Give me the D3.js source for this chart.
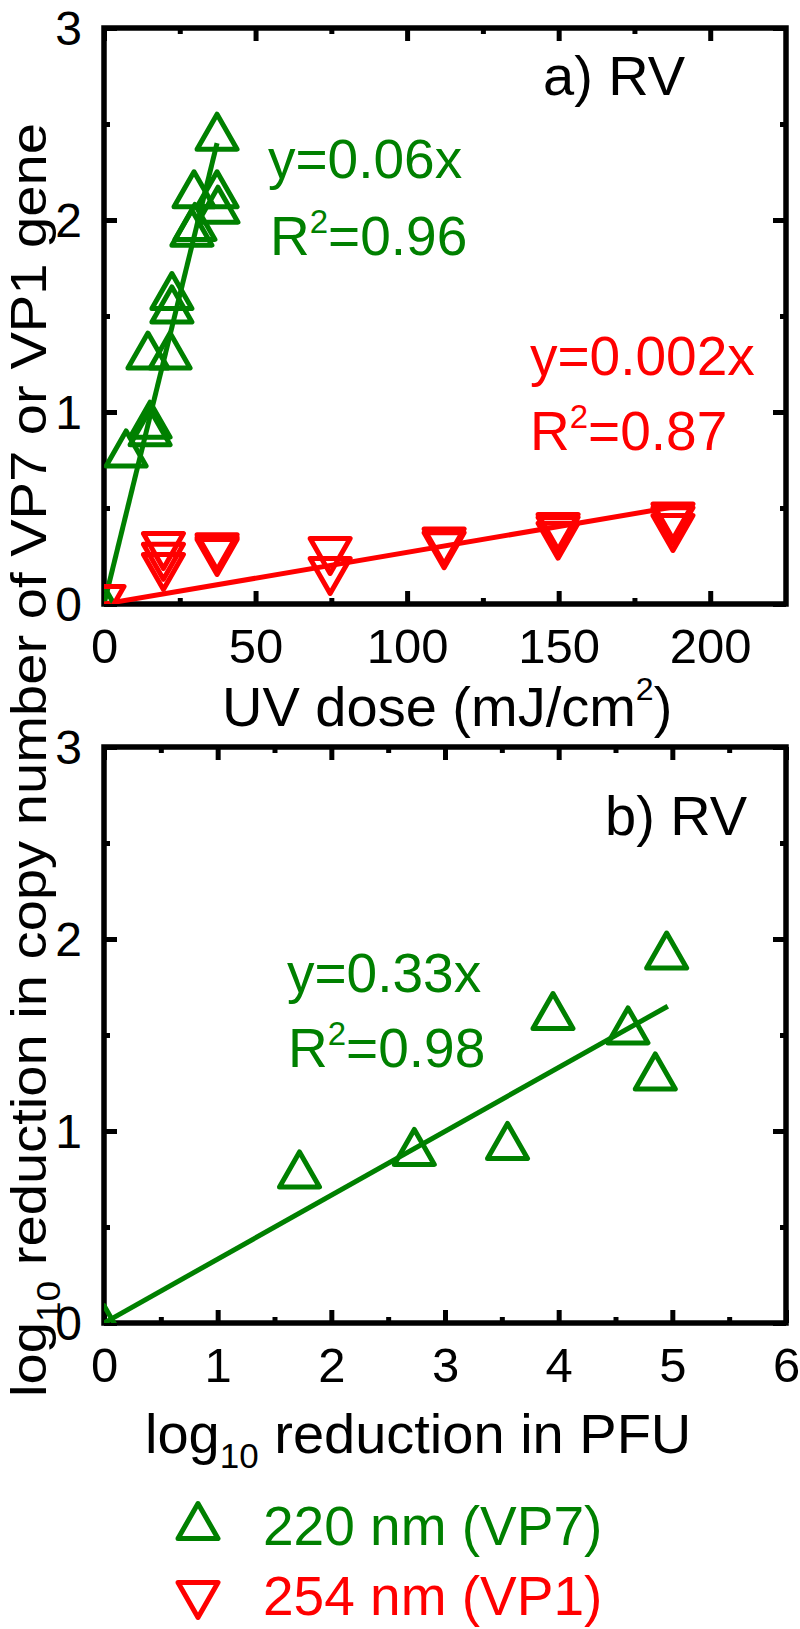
<!DOCTYPE html>
<html><head><meta charset="utf-8">
<script src="https://cdn.jsdelivr.net/npm/d3@7"></script>
<style>
html,body{margin:0;padding:0;background:#fff;}
svg{display:block;font-family:"Liberation Sans",Arial,sans-serif;}
</style></head>
<body>
<svg id="chart" width="800" height="1629"></svg>
<script>
// ---------- data ----------
// panel a: UV dose (mJ/cm2) vs log10 reduction in copy number
const greenDoseA = [37.3, 29.7, 37.3, 37.6, 29.0, 30.0, 22.4, 22.4, 14.5, 21.8, 15.2, 15.2, 7.3, 0];
const greenLogA  = [2.46, 2.16, 2.16, 2.08, 1.96, 1.99, 1.63, 1.56, 1.32, 1.32, 0.96, 0.92, 0.81, 0];
const redDoseA = [0, 19.6, 19.6, 19.6, 37.3, 37.3, 37.3, 74.6, 74.6, 112.2, 112.2, 149.8, 149.8, 149.8, 187.7, 187.7, 187.7];
const redLogA  = [0, 0.276, 0.22, 0.167, 0.27, 0.255, 0.245, 0.25, 0.146, 0.30, 0.28, 0.375, 0.36, 0.33, 0.43, 0.41, 0.37];
const greenFitA = [[0, 0], [37.3, 2.40]];
const redFitA   = [[0, 0], [187.7, 0.505]];
// panel b: log10 reduction in PFU vs log10 reduction in copy number
const pfuB = [4.95, 3.95, 4.61, 4.85, 1.72, 2.73, 3.55, 0];
const copyB = [1.94, 1.625, 1.55, 1.31, 0.80, 0.917, 0.948, 0];
const fitB = [[0, 0], [4.96, 1.65]];
// ticks
const xTicksA = [0, 50, 100, 150, 200];
const xMinorA = [25, 75, 125, 175, 225];
const xTicksB = [0, 1, 2, 3, 4, 5, 6];
const xMinorB = [0.5, 1.5, 2.5, 3.5, 4.5, 5.5];
const yTicks = [0, 1, 2, 3];
const yMinor = [0.5, 1.5, 2.5];

const GREEN = "#008000", RED = "#ff0000";
const FONT = "Liberation Sans, Arial, sans-serif";
const svg = d3.select("#chart");

const L = 104, R = 786;
const panels = {
  a: {top: 28, bottom: 604, xdom: [0, 225]},
  b: {top: 747, bottom: 1323, xdom: [0, 6]}
};

function triPath(up) {
  const w = 40, h = 35;
  return up ? `M0,${-h/2}L${w/2},${h/2}L${-w/2},${h/2}Z` : `M0,${h/2}L${w/2},${-h/2}L${-w/2},${-h/2}Z`;
}

function drawPanel(id, p, xMajor, xMinor, fmt) {
  const x = d3.scaleLinear().domain(p.xdom).range([L, R]);
  const y = d3.scaleLinear().domain([0, 3]).range([p.bottom, p.top]);
  const g = svg.append("g");
  svg.append("clipPath").attr("id", "clip" + id).append("rect")
    .attr("x", L).attr("y", p.top).attr("width", R - L).attr("height", p.bottom - p.top);

  const style = sel => {
    sel.select(".domain").remove();
    sel.selectAll(".tick line").attr("stroke", "#000").attr("stroke-width", 5);
  };
  const minors = xMinor.filter(v => v < p.xdom[1]);
  g.append("g").attr("transform", `translate(0,${p.bottom})`)
    .call(d3.axisBottom(x).tickValues(xMajor).tickSize(-13).tickSizeOuter(0).tickFormat(fmt))
    .call(style)
    .call(s => s.selectAll("text").attr("y", 0).attr("dy", 0).attr("transform", "translate(0,59)")
      .attr("font-size", 49).attr("fill", "#000").attr("font-family", FONT));
  g.append("g").attr("transform", `translate(0,${p.bottom})`)
    .call(d3.axisBottom(x).tickValues(minors).tickSize(-6).tickSizeOuter(0).tickFormat(""))
    .call(style);
  g.append("g").attr("transform", `translate(0,${p.top})`)
    .call(d3.axisTop(x).tickValues(xMajor).tickSize(-13).tickSizeOuter(0).tickFormat(""))
    .call(style);
  g.append("g").attr("transform", `translate(0,${p.top})`)
    .call(d3.axisTop(x).tickValues(minors).tickSize(-6).tickSizeOuter(0).tickFormat(""))
    .call(style);
  g.append("g").attr("transform", `translate(${L},0)`)
    .call(d3.axisLeft(y).tickValues(yTicks).tickSize(-13).tickSizeOuter(0).tickFormat(d3.format("d")))
    .call(style)
    .call(s => s.selectAll("text").attr("x", 0).attr("dy", 0).attr("transform", "translate(-22,16)")
      .attr("font-size", 48).attr("fill", "#000").attr("font-family", FONT));
  g.append("g").attr("transform", `translate(${L},0)`)
    .call(d3.axisLeft(y).tickValues(yMinor).tickSize(-6).tickSizeOuter(0).tickFormat(""))
    .call(style);
  g.append("g").attr("transform", `translate(${R},0)`)
    .call(d3.axisRight(y).tickValues(yTicks).tickSize(-13).tickSizeOuter(0).tickFormat(""))
    .call(style);
  g.append("g").attr("transform", `translate(${R},0)`)
    .call(d3.axisRight(y).tickValues(yMinor).tickSize(-6).tickSizeOuter(0).tickFormat(""))
    .call(style);
  g.append("rect").attr("x", L).attr("y", p.top).attr("width", R - L).attr("height", p.bottom - p.top)
    .attr("fill", "none").attr("stroke", "#000").attr("stroke-width", 5.5);
  return {x, y, plot: svg.append("g").attr("clip-path", `url(#clip${id})`)};
}

const A = drawPanel("a", panels.a, xTicksA, xMinorA, d3.format("d"));
const B = drawPanel("b", panels.b, xTicksB, xMinorB, d3.format("d"));

const line = (sc) => d3.line().x(d => sc.x(d[0])).y(d => sc.y(d[1]));
const MSW = 5;

// panel a marks
A.plot.append("path").datum(greenFitA).attr("d", line(A)).attr("stroke", GREEN).attr("stroke-width", 5).attr("fill", "none");
A.plot.append("path").datum(redFitA).attr("d", line(A)).attr("stroke", RED).attr("stroke-width", 5).attr("fill", "none");
A.plot.selectAll(".g").data(d3.range(greenDoseA.length)).join("path")
  .attr("transform", i => `translate(${A.x(greenDoseA[i])},${A.y(greenLogA[i])})`)
  .attr("d", triPath(true)).attr("fill", "none").attr("stroke", GREEN).attr("stroke-width", MSW).attr("stroke-linejoin", "round");
A.plot.selectAll(".r").data(d3.range(redDoseA.length)).join("path")
  .attr("transform", i => `translate(${A.x(redDoseA[i])},${A.y(redLogA[i])})`)
  .attr("d", triPath(false)).attr("fill", "none").attr("stroke", RED).attr("stroke-width", MSW).attr("stroke-linejoin", "round");

// panel b marks
B.plot.append("path").datum(fitB).attr("d", line(B)).attr("stroke", GREEN).attr("stroke-width", 5).attr("fill", "none");
B.plot.selectAll(".g").data(d3.range(pfuB.length)).join("path")
  .attr("transform", i => `translate(${B.x(pfuB[i])},${B.y(copyB[i])})`)
  .attr("d", triPath(true)).attr("fill", "none").attr("stroke", GREEN).attr("stroke-width", MSW).attr("stroke-linejoin", "round");

// ---------- texts ----------
function txt(x, y, color, size) {
  return svg.append("text").attr("x", x).attr("y", y).attr("fill", color).attr("font-size", size);
}
function eqR2(x, y, color, val) {
  const t = txt(x, y, color, 55);
  t.append("tspan").text("R");
  t.append("tspan").attr("font-size", 33).attr("dy", -22).text("2");
  t.append("tspan").attr("dy", 22).text("=" + val);
}
txt(543, 95, "#000", 56).text("a) RV");
txt(268, 178, GREEN, 55).text("y=0.06x");
eqR2(270, 255, GREEN, "0.96");
txt(530, 375, RED, 55).text("y=0.002x");
eqR2(530, 450, RED, "0.87");

txt(605, 835, "#000", 56).text("b) RV");
txt(287, 992, GREEN, 55).text("y=0.33x");
eqR2(288, 1067, GREEN, "0.98");

// x title a
{
  const t = txt(222, 726, "#000", 56);
  t.append("tspan").text("UV dose (mJ/cm");
  t.append("tspan").attr("font-size", 32).attr("dy", -26).text("2");
  t.append("tspan").attr("dy", 26).text(")");
}
// x title b
{
  const t = txt(145, 1453, "#000", 56);
  t.append("tspan").text("log");
  t.append("tspan").attr("font-size", 35).attr("dy", 15).text("10");
  t.append("tspan").attr("dy", -15).text(" reduction in PFU");
}
// y title
{
  const t = svg.append("text").attr("transform", "translate(46,1397) rotate(-90)")
    .attr("font-size", 50).attr("fill", "#000")
    .attr("textLength", 1274).attr("lengthAdjust", "spacingAndGlyphs");
  t.append("tspan").text("log");
  t.append("tspan").attr("font-size", 33).attr("dy", 14).text("10");
  t.append("tspan").attr("dy", -14).text(" reduction in copy number of VP7 or VP1 gene");
}

// legend
const legend = [
  {label: "220 nm (VP7)", color: GREEN, up: true, y: 1521, ty: 1545},
  {label: "254 nm (VP1)", color: RED, up: false, y: 1600, ty: 1615}
];
legend.forEach(d => {
  svg.append("path").attr("transform", `translate(198,${d.y})`).attr("d", triPath(d.up))
    .attr("fill", "none").attr("stroke", d.color).attr("stroke-width", MSW).attr("stroke-linejoin", "round");
  txt(263, d.ty, d.color, 55).text(d.label);
});
</script>
</body></html>
